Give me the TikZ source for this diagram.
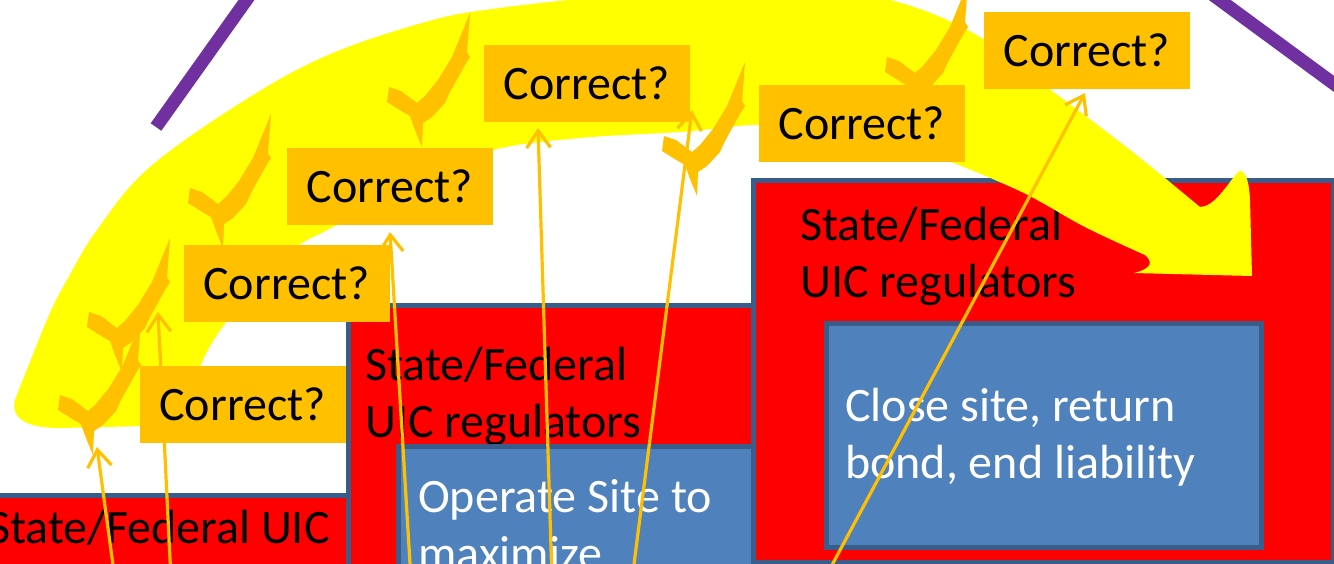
\documentclass[tikz,border=0pt]{standalone}
\usepackage{fontspec}
\setmainfont{Carlito}
\usetikzlibrary{arrows.meta}
\definecolor{boxred}{HTML}{FF0000}
\definecolor{edgeblue}{HTML}{385D8A}
\definecolor{fillblue}{HTML}{4F81BD}
\definecolor{amber}{HTML}{FFC000}
\definecolor{glow}{HTML}{FFFF00}
\definecolor{slashpurple}{HTML}{7030A0}
\tikzset{
  redpanel/.style={draw=edgeblue, line width=5pt, fill=boxred, inner sep=0pt, anchor=north west},
  bluepanel/.style={draw=edgeblue, line width=5pt, fill=fillblue, inner sep=0pt, anchor=north west},
  paneltext/.style={inner sep=0pt, anchor=base west, align=left, text=black,
    font=\fontsize{48}{57}\selectfont},
  whitetext/.style={paneltext, text=white},
  query/.style={fill=amber, inner sep=0pt, minimum width=206pt, minimum height=77pt,
    text=black, font=\fontsize{48}{57}\selectfont},
  pointer/.style={draw=amber, line width=3.2pt,
    -{Straight Barb[length=17pt, width=24pt]}},
  slash/.style={draw=slashpurple, line width=13pt},
  % a rough hand-drawn tick, origin at the corner where its two strokes meet
  pics/checkmk/.style={code={
    \fill[amber] (55,-95) -- (52,-56) -- (55,-51) -- (50,-43) -- (35,-16)
      -- (30,-5) -- (17,9) -- (8,15) -- (7,39) -- (0,22) -- (-5,8) -- (-12,4)
      -- (-28,-6) -- (-26,-21) -- (-14,-17) -- (2,-5) -- (10,-12) -- (23,-28)
      -- (37,-51) -- cycle;
  }}
}
\begin{document}
\begin{tikzpicture}[x=1pt, y=-1pt]
\useasboundingbox (0,0) rectangle (1334,563);
\clip (0,0) rectangle (1334,563);
\fill[white] (0,0) rectangle (1334,563);

% regulator panels and the activity boxes inside them
% (multi-line labels are anchored on the baseline of their last line)
\node[redpanel, minimum width=366pt, minimum height=130pt] (regA) at (-20,492.5) {};
\node[paneltext] (regAtxt) at (-12,543) {State/Federal UIC};

\node[redpanel, minimum width=404.5pt, minimum height=318pt] (regB) at (346,302.5) {};
\node[paneltext] (regBtxt) at (365,437) {State/Federal\\UIC regulators};
\node[bluepanel, minimum width=354.5pt, minimum height=177pt] (opB) at (396,444) {};
\node[whitetext] (opBtxt) at (418,569) {Operate Site to\\maximize};

\node[redpanel, minimum width=580.5pt, minimum height=382pt] (regC) at (750.5,177.5) {};
\node[paneltext] (regCtxt) at (800,297) {State/Federal\\UIC regulators};
\node[bluepanel, minimum width=435pt, minimum height=224.5pt] (closeC) at (823.5,320.5) {};
\node[whitetext] (closeCtxt) at (845,478) {Close site, return\\bond, end liability};

% purple strokes at the top corners
\coordinate (p1a) at (156,127);
\coordinate (p1b) at (250,-5);
\coordinate (p2a) at (1213,-5);
\coordinate (p2b) at (1345,92);
\draw[slash] (p1a) -- (p1b);
\draw[slash] (p2a) -- (p2b);

% the broad yellow curved arrow
\fill[glow] (60,428) -- (190,425)
  -- plot[smooth, tension=0.6] coordinates {(190,425) (200,367) (233,313) (290,252)
     (333,227) (420,180) (493,150) (580,138) (680,132) (780,125) (900,145)
     (1011,187) (1085,227) (1145,255)}
  .. controls (1158,266) and (1142,271) .. (1134,273)
  -- (1252,276) -- (1250,200)
  .. controls (1249,176) and (1243,168) .. (1238,172)
  .. controls (1226,186) and (1214,207) .. (1200,207)
  -- plot[smooth, tension=0.6] coordinates {(1200,207) (1130,150) (1048,88) (973,33)
     (890,0) (800,-10) (700,-10) (600,-3) (500,8) (433,20) (333,53) (250,97)
     (150,167) (97,230) (67,280) (50,313) (28,367) (15,400)}
  .. controls (10,420) and (30,428) .. (60,428) -- cycle;

% hand-drawn ticks along the arrow
\pic (tick1) at (86,416) {checkmk};
\pic (tick2) at (115,333) {checkmk};
\pic (tick3) at (216,209) {checkmk};
\pic (tick4) at (415,108) {checkmk};
\pic (tick5) at (690,157) {checkmk};
\pic (tick6) at (913,78) {checkmk};

% thin pointers rising from the panels
\coordinate (s1) at (115,580);  \coordinate (t1) at (97,447);
\coordinate (s2) at (171,580);  \coordinate (t2) at (158,312);
\coordinate (s3) at (411,580);  \coordinate (t3) at (390,232);
\coordinate (s4) at (552,580);  \coordinate (t4) at (538,128);
\coordinate (s5) at (632,580);  \coordinate (t5) at (692,110);
\coordinate (s6) at (824,580);  \coordinate (t6) at (1085,93);
\draw[pointer] (s1) -- (t1);
\draw[pointer] (s2) -- (t2);
\draw[pointer] (s3) -- (t3);
\draw[pointer] (s4) -- (t4);
\draw[pointer] (s5) -- (t5);
\draw[pointer] (s6) -- (t6);

% question labels
\node[query] (q1) at (242.5,404.5) {Correct?};
\node[query] (q2) at (286.5,283.5) {Correct?};
\node[query] (q3) at (390,186.5) {Correct?};
\node[query] (q4) at (587,83.5) {Correct?};
\node[query] (q5) at (862,123) {Correct?};
\node[query] (q6) at (1087,50) {Correct?};
\end{tikzpicture}
\end{document}
